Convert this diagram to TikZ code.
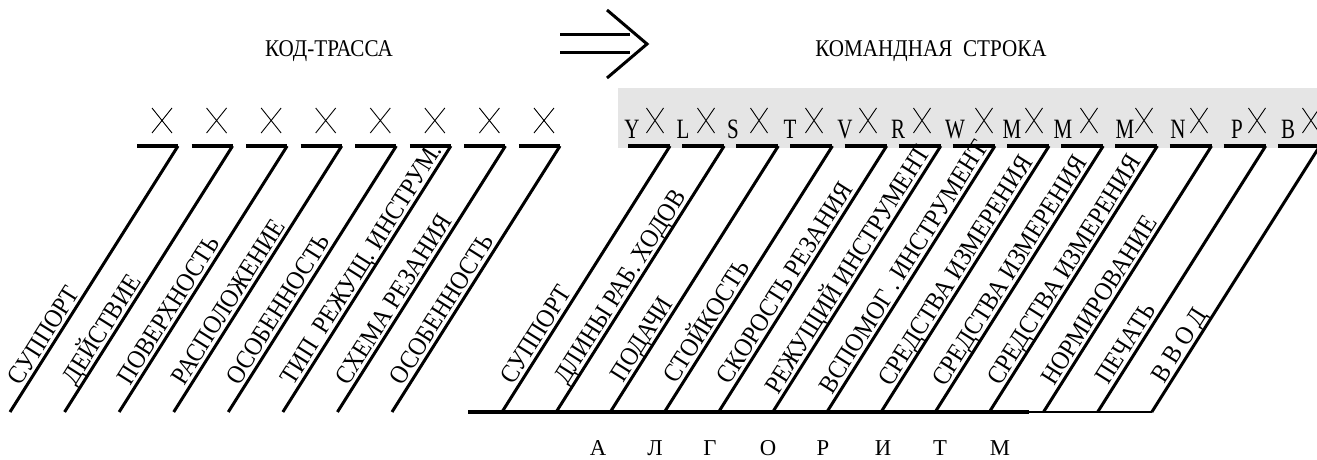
\documentclass[tikz,border=0pt]{standalone}
\usepackage{fontspec}
\setmainfont{Liberation Serif}
\newfontfamily\condfont{Liberation Serif}[FakeStretch=0.88]
\newfontfamily\labfont{Liberation Serif}[FakeStretch=0.9]
\newfontfamily\letfont{Liberation Serif}[FakeStretch=0.75]
\usetikzlibrary{calc}
\begin{document}
\begin{tikzpicture}[x=1pt,y=1pt,
  slantline/.style={line width=3pt},
  topseg/.style={line width=4.5pt},
  baseline/.style={line width=4.5pt},
  thinbase/.style={line width=1.8pt},
  arrowline/.style={line width=3pt},
  lab/.style={rotate=57.72, anchor=base west, inner sep=0pt, font=\labfont\fontsize{26}{27}\selectfont},
  title/.style={anchor=base, inner sep=0pt, font=\condfont\fontsize{24}{25}\selectfont},
  letter/.style={anchor=base, inner sep=0pt, font=\letfont\fontsize{28}{29}\selectfont},
  algo/.style={anchor=base, inner sep=0pt, font=\fontsize{22.7}{24}\selectfont},
  xmark/.pic={\draw[line width=0.9pt] (-#1,-12.5) -- (#1,12.5) (-#1,12.5) -- (#1,-12.5);},
]
\useasboundingbox (0,0) rectangle (1317,459);
% grey band
\fill[black!10] (618,311) rectangle (1317,371);
% titles
\node[title] (t1) at (329,402) {КОД-ТРАССА};
\node[title] (t2) at (931,402) {КОМАНДНАЯ\hspace{0.45em}СТРОКА};
% double arrow
\coordinate (a1) at (560,424);
\coordinate (a2) at (630,424);
\coordinate (a3) at (560,406);
\coordinate (a4) at (630,406);
\coordinate (c1) at (607,449);
\coordinate (c2) at (647,415);
\coordinate (c3) at (607,381);
\draw[arrowline] (a1) -- (a2);
\draw[arrowline] (a3) -- (a4);
\draw[arrowline] (c1) -- (c2) -- (c3);
% left group
\foreach \k in {0,...,7} {
  \pgfmathsetmacro\xt{178+54.57*\k}
  \coordinate (lt\k) at (\xt,313);
  \coordinate (ll\k) at (\xt-41,313);
  \coordinate (lb\k) at (\xt-168,47);
  \draw[slantline] (lt\k) -- (lb\k);
  \draw[topseg] (ll\k) -- (lt\k);
  \pic at (\xt-16,338.5) {xmark=10};
}
\foreach \k/\t in {0/СУППОРТ,1/ДЕЙСТВИЕ,2/ПОВЕРХНОСТЬ,3/РАСПОЛОЖЕНИЕ,4/ОСОБЕННОСТЬ,5/ТИП\ \ РЕЖУЩ. ИНСТРУМ.,6/СХЕМА РЕЗАНИЯ,7/ОСОБЕННОСТЬ}
  \node[lab] (llab\k) at ($(lb\k)!27.5pt!(lt\k) + (147.72:4.5)$) {\t};
% right group
\foreach \k in {0,...,12} {
  \pgfmathsetmacro\xt{670+54.15*\k}
  \coordinate (rt\k) at (\xt,313);
  \coordinate (rl\k) at (\xt-42,313);
  \coordinate (rb\k) at (\xt-168,47);
  \draw[slantline] (rt\k) -- (rb\k);
  \draw[topseg] (rl\k) -- (rt\k);
}
\foreach \k/\d/\t in {0/28/СУППОРТ,1/28/ДЛИНЫ РАБ. ХОДОВ,2/31/ПОДАЧИ,3/29/СТОЙКОСТЬ,4/28/СКОРОСТЬ РЕЗАНИЯ,5/17/РЕЖУЩИЙ ИНСТРУМЕНТ,6/17/ВСПОМОГ . ИНСТРУМЕНТ,7/26/СРЕДСТВА ИЗМЕРЕНИЯ,8/26/СРЕДСТВА ИЗМЕРЕНИЯ,9/27/СРЕДСТВА ИЗМЕРЕНИЯ,10/27/НОРМИРОВАНИЕ,11/28/ПЕЧАТЬ,12/30/В В О Д}
  \node[lab] (rlab\k) at ($(rb\k)!\d pt!(rt\k) + (147.72:4.5)$) {\t};
% letters and marks in the band
\foreach \k/\x/\c/\m in {0/632/Y/655,1/683/L/706,2/733/S/759,3/790/T/814,4/845/V/868,5/898/R/922,6/955/W/984,7/1012/M/1034,8/1063/M/1089,9/1125/M/1144,10/1178/N/1199,11/1237/P/1257,12/1288/B/1311} {
  \node[letter] (let\k) at (\x,321) {\c};
  \pic at (\m,338.5) {xmark=8.5};
}
% bottom line
\coordinate (bs) at (468,47);
\coordinate (bm) at (1029,47);
\draw[baseline] (bs) -- (bm);
\draw[thinbase] (bm) -- (rb12);
% algorithm
\foreach \k/\x/\c in {0/598/А,1/655/Л,2/710/Г,3/768/О,4/823/Р,5/883/И,6/940/Т,7/1000/М}
  \node[algo] (alg\k) at (\x,4) {\c};
\end{tikzpicture}
\end{document}
